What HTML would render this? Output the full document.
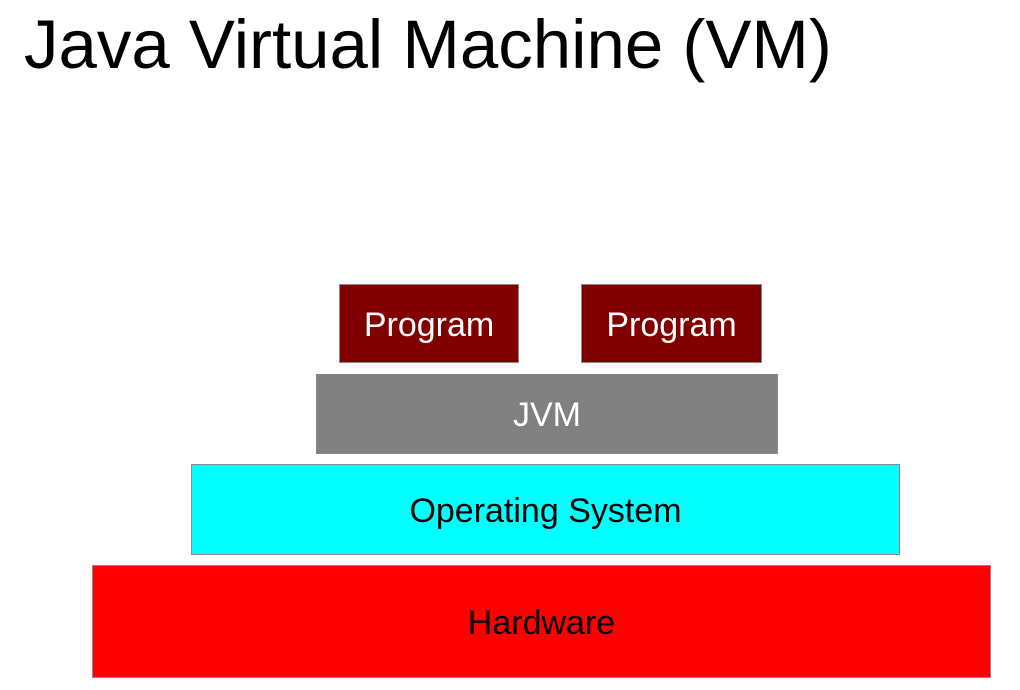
<!DOCTYPE html>
<html><head><meta charset="utf-8"><style>
html,body{margin:0;padding:0;background:#fff;width:1020px;height:690px;overflow:hidden;position:relative;font-family:"Liberation Sans",sans-serif}
.t{position:absolute;left:24px;top:10px;font-size:69px;line-height:69px;color:#000;white-space:nowrap}
.b{position:absolute;box-sizing:border-box;border:1px solid #8a8a8a;display:flex;align-items:center;justify-content:center;white-space:nowrap;font-size:34px;padding-top:3px}
</style></head><body>
<div class="t">Java Virtual Machine (VM)</div>
<div class="b" style="left:339px;top:284px;width:180px;height:79px;background:#800000;color:#fff">Program</div>
<div class="b" style="left:581px;top:284px;width:181px;height:79px;background:#800000;color:#fff">Program</div>
<div class="b" style="left:316px;top:374px;width:462px;height:80px;background:#808080;color:#fff;border-top:none">JVM</div>
<div class="b" style="left:191px;top:464px;width:709px;height:91px;background:#00ffff;color:#000">Operating System</div>
<div class="b" style="left:92px;top:565px;width:899px;height:113px;background:#ff0000;color:#000">Hardware</div>
</body></html>
